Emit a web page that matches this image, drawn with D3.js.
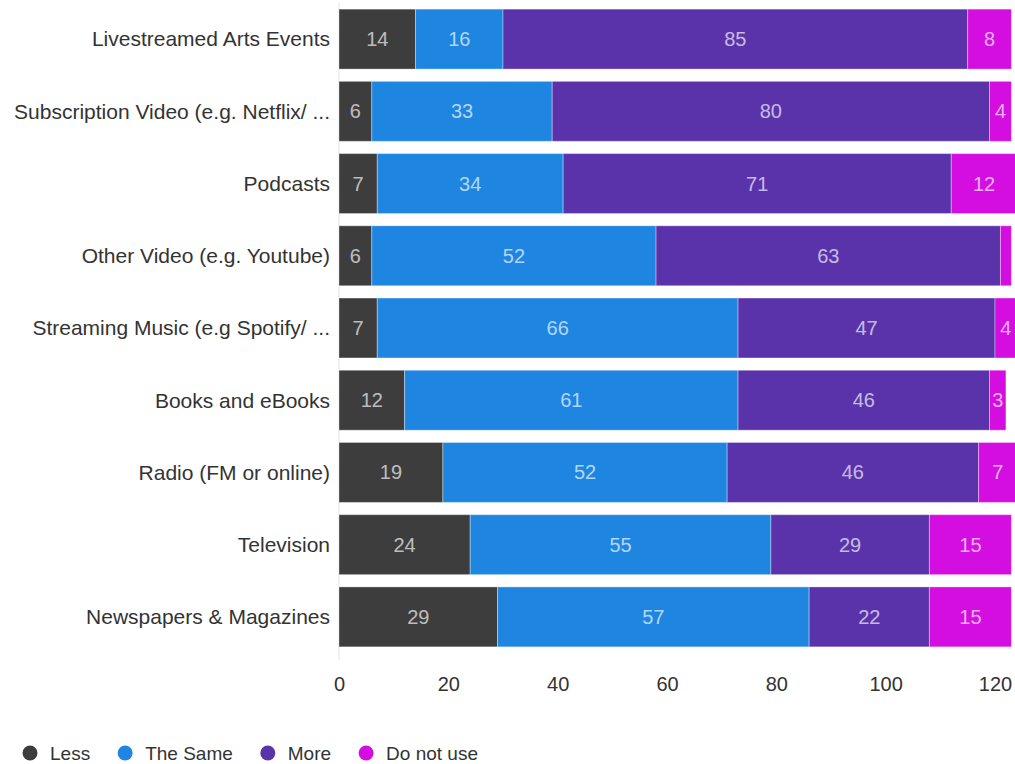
<!DOCTYPE html>
<html>
<head>
<meta charset="utf-8">
<script src="https://cdn.jsdelivr.net/npm/d3@7"></script>
<style>
  html, body { margin: 0; padding: 0; background: #fff; }
  svg { display: block; font-family: "Liberation Sans", Arial, sans-serif; }
</style>
</head>
<body>
<svg id="chart" width="1015" height="764"></svg>
<script>
// Media use categories, top to bottom
const categories = [
  "Livestreamed Arts Events",
  "Subscription Video (e.g. Netflix/ ...",
  "Podcasts",
  "Other Video (e.g. Youtube)",
  "Streaming Music (e.g Spotify/ ...",
  "Books and eBooks",
  "Radio (FM or online)",
  "Television",
  "Newspapers & Magazines"
];

const seriesNames = ["Less", "The Same", "More", "Do not use"];

const less      = [14, 6, 7, 6, 7, 12, 19, 24, 29];
const theSame   = [16, 33, 34, 52, 66, 61, 52, 55, 57];
const more      = [85, 80, 71, 63, 47, 46, 46, 29, 22];
const doNotUse  = [8, 4, 12, 2, 4, 3, 7, 15, 15];

const xTicks = [0, 20, 40, 60, 80, 100, 120];

const colors = ["#3d3d3d", "#1e85e0", "#5a33aa", "#d40ee0"];

const rows = categories.map((c, i) => ({
  category: c,
  "Less": less[i],
  "The Same": theSame[i],
  "More": more[i],
  "Do not use": doNotUse[i]
}));

const svg = d3.select("#chart");

const x = d3.scaleLinear().domain([0, 120]).range([339, 995]);
const y = d3.scaleBand().domain(categories).range([3, 653]).paddingInner(0.17).paddingOuter(0.085);
const color = d3.scaleOrdinal().domain(seriesNames).range(colors);

const stacked = d3.stack().keys(seriesNames)(rows);

// Baseline at zero
svg.append("line")
  .attr("x1", x(0)).attr("x2", x(0))
  .attr("y1", 3).attr("y2", 660)
  .attr("stroke", "#e4e4e4").attr("stroke-width", 1);

// Stacked segments
const layer = svg.append("g").selectAll("g")
  .data(stacked)
  .join("g")
  .attr("fill", d => color(d.key));

layer.selectAll("rect")
  .data(d => d.map(p => ({ key: d.key, p })))
  .join("rect")
  .attr("x", d => x(d.p[0]))
  .attr("y", d => y(d.p.data.category))
  .attr("width", d => x(d.p[1]) - x(d.p[0]))
  .attr("height", y.bandwidth())
  .attr("stroke", "#ffffff")
  .attr("stroke-opacity", 0.35)
  .attr("stroke-width", 1);

// Value labels inside segments
layer.selectAll("text")
  .data(d => d.map(p => ({ key: d.key, p, v: p[1] - p[0] })).filter(d => d.v >= 3))
  .join("text")
  .attr("x", d => (x(d.p[0]) + x(d.p[1])) / 2)
  .attr("y", d => y(d.p.data.category) + y.bandwidth() / 2)
  .attr("dy", "0.35em")
  .attr("text-anchor", "middle")
  .attr("font-size", 20)
  .attr("fill", "#ffffff")
  .attr("fill-opacity", 0.68)
  .text(d => d.v);

// Category axis labels
svg.append("g").selectAll("text")
  .data(categories)
  .join("text")
  .attr("x", 330)
  .attr("y", d => y(d) + y.bandwidth() / 2)
  .attr("dy", "0.35em")
  .attr("text-anchor", "end")
  .attr("font-size", 21)
  .attr("fill", "#333333")
  .text(d => d);

// Value axis
const xAxis = svg.append("g")
  .attr("transform", "translate(0,670)")
  .call(d3.axisBottom(x).tickValues(xTicks).tickSize(0).tickPadding(7));
xAxis.select(".domain").remove();
xAxis.selectAll("text")
  .attr("font-size", 20)
  .attr("font-family", "Liberation Sans, Arial, sans-serif")
  .attr("fill", "#333333");

// Legend
const legend = svg.append("g").attr("transform", "translate(0,753)");
let lx = 30;
seriesNames.forEach((name, i) => {
  const g = legend.append("g").attr("transform", `translate(${lx},0)`);
  g.append("circle").attr("r", 7.5).attr("fill", colors[i]);
  const t = g.append("text")
    .attr("x", 20)
    .attr("dy", "0.35em")
    .attr("font-size", 19)
    .attr("fill", "#333333")
    .text(name);
  lx += 20 + t.node().getComputedTextLength() + 35;
});
</script>
</body>
</html>
